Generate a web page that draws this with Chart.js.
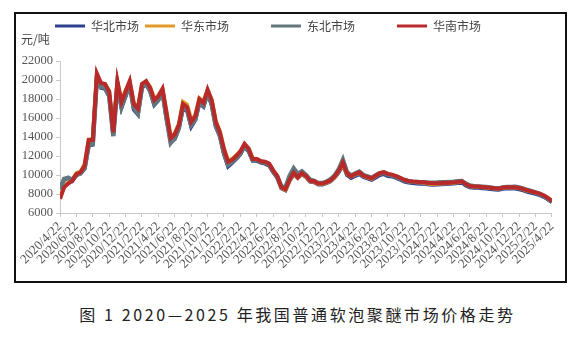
<!DOCTYPE html>
<html>
<head>
<meta charset="utf-8">
<script src="https://cdn.jsdelivr.net/npm/chart.js@4"></script>
<style>
  body { margin: 0; width: 579px; height: 337px; background: #fff; position: relative; overflow: hidden; }
  #frame { position: absolute; left: 14px; top: 12px; width: 549px; height: 267px; border: 2px solid #111; }
  #unit { position: absolute; left: 21px; top: 30px; font: 12px "Noto Sans CJK SC"; color: #444; }
  #caption { position: absolute; left: 8px; width: 579px; top: 302px; text-align: center;
             font: 16px "Noto Sans CJK SC"; letter-spacing: 2.6px; color: #222; }
</style>
</head>
<body>
<div id="frame"><canvas id="priceChart" width="549" height="267"></canvas></div>
<div id="unit">元/吨</div>
<div id="caption">图 1  2020—2025 年我国普通软泡聚醚市场价格走势</div>
<script>
// tick labels, every 2 months
const tickLabels = ["2020/4/22","2020/6/22","2020/8/22","2020/10/22","2020/12/22","2021/2/22","2021/4/22","2021/6/22",
  "2021/8/22","2021/10/22","2021/12/22","2022/2/22","2022/4/22","2022/6/22","2022/8/22","2022/10/22","2022/12/22",
  "2023/2/22","2023/4/22","2023/6/22","2023/8/22","2023/10/22","2023/12/22","2024/2/22","2024/4/22","2024/6/22",
  "2024/8/22","2024/10/22","2024/12/22","2025/2/22","2025/4/22"];

const seriesNames = ["华北市场", "华东市场", "东北市场", "华南市场"];

// prices (yuan/t), one value every half month from 2020/4/22
const huabei = [8600,9500,9700,9400,10000,10150,10700,13100,13200,20200,
  19200,19100,18300,14200,19400,17100,18300,19500,16900,16400,
  19200,19600,18800,17400,17900,18700,15900,13500,13800,14900,
  17100,16800,15100,15800,17600,17200,18600,17400,15100,14100,
  12200,10900,11300,11700,12200,13000,12500,11500,11500,11300,
  11200,11000,10300,9700,8600,8400,9400,10100,9700,10100,
  9800,9300,9250,9000,9000,9150,9350,9750,10300,11100,
  10000,9700,9900,10100,9800,9650,9500,9750,10000,10100,
  9900,9850,9700,9500,9300,9200,9150,9100,9080,9080,
  9000,8980,9000,9020,9050,9080,9100,9150,9200,8900,
  8700,8650,8650,8620,8580,8520,8480,8450,8550,8600,
  8580,8570,8500,8380,8230,8120,8020,7900,7700,7450,7150];

const huadong = [7600,8800,9200,9500,10200,10350,11100,13750,13800,20600,
  19650,19550,18850,14700,19800,17800,18900,19850,17600,17100,
  19500,19850,19250,18000,18400,19050,16600,14000,14400,15400,
  17700,17400,15800,16300,18100,17800,18900,17900,15700,14600,
  12800,11500,11700,12100,12500,13200,12800,11750,11700,11450,
  11350,11150,10450,9850,8650,8450,9450,10200,9700,10150,
  9850,9350,9300,9050,9050,9200,9400,9800,10400,11200,
  10150,9850,10050,10250,9900,9750,9600,9900,10150,10250,
  10100,10000,9850,9650,9450,9330,9280,9250,9180,9150,
  9080,9050,9070,9100,9130,9160,9200,9250,9300,9020,
  8820,8760,8760,8720,8680,8630,8580,8540,8650,8700,
  8700,8700,8630,8500,8350,8250,8150,8030,7830,7580,7230];

const dongbei = [8500,9600,9700,9500,10000,10200,10700,13200,13300,20300,
  19300,19200,18400,14100,19500,17200,18400,19600,17100,16500,
  19300,19700,18900,17500,18000,18800,16000,13400,13900,15000,
  17200,16900,15300,15900,17700,17300,18700,17500,15200,14200,
  12300,11100,11400,11800,12300,13100,12600,11600,11600,11400,
  11300,11100,10400,9800,8800,8700,9900,10700,10100,10400,
  10000,9500,9400,9150,9150,9300,9550,9950,10600,11600,
  10300,9950,10150,10350,10000,9850,9700,9950,10200,10250,
  10050,9950,9800,9600,9450,9350,9300,9280,9250,9250,
  9200,9200,9220,9250,9250,9280,9300,9350,9380,9100,
  8900,8820,8800,8780,8730,8680,8620,8600,8700,8750,
  8750,8760,8700,8580,8420,8300,8150,8000,7800,7500,7150];

const huanan = [7500,8700,9100,9400,10100,10300,11000,13700,13700,20700,
  19700,19600,18800,14500,19900,17700,18800,19900,17500,17000,
  19600,19900,19200,17900,18300,19100,16500,13900,14300,15300,
  17500,17150,15600,16200,18000,17600,19000,17900,15600,14500,
  12700,11400,11600,12000,12500,13300,12800,11700,11700,11450,
  11400,11200,10500,9900,8700,8500,9500,10250,9750,10200,
  9900,9400,9350,9100,9100,9250,9450,9850,10450,11300,
  10200,9870,10100,10300,9920,9800,9650,9950,10200,10300,
  10120,10050,9900,9700,9500,9380,9330,9300,9230,9230,
  9150,9130,9130,9150,9180,9200,9230,9280,9340,9050,
  8850,8790,8790,8750,8700,8650,8600,8560,8680,8720,
  8720,8720,8650,8530,8380,8270,8170,8050,7850,7600,7250];

const MONTHS_PER_POINT = 0.5;

function toPoints(values) {
    return values.map((v, i) => ({ x: i * MONTHS_PER_POINT, y: v }));
}

const lineSetup = [
    { data: huabei,  color: "#2d3f8f", width: 4,   order: 4 },
    { data: huadong, color: "#e09a2a", width: 4,   order: 3 },
    { data: dongbei, color: "#62777e", width: 4.5, order: 2 },
    { data: huanan,  color: "#b82a2a", width: 4,   order: 1 }
];

const ctx = document.getElementById("priceChart").getContext("2d");
new Chart(ctx, {
    type: "line",
    data: {
        datasets: lineSetup.map((s, i) => ({
            label: seriesNames[i],
            data: toPoints(s.data),
            borderColor: s.color,
            backgroundColor: s.color,
            borderWidth: s.width,
            pointRadius: 0,
            tension: 0,
            order: s.order
        }))
    },
    options: {
        responsive: false,
        animation: false,
        layout: { padding: { top: 0, right: 9, left: 0, bottom: 0 } },
        plugins: {
            legend: {
                position: "top",
                labels: {
                    boxWidth: 30,
                    boxHeight: 3,
                    padding: 6,
                    color: "#444",
                    font: { family: "Noto Sans CJK SC", size: 12 },
                    sort: (a, b) => a.datasetIndex - b.datasetIndex,
                    // wide gaps between items, as in the original
                    generateLabels: function (chart) {
                        const items = Chart.defaults.plugins.legend.labels.generateLabels(chart);
                        return items.map((l, i) => Object.assign(l, {
                            lineWidth: 0,
                            fillStyle: l.strokeStyle,
                            text: i < items.length - 1 ? l.text + "\u2003\u2003\u2003" : l.text
                        }));
                    }
                }
            },
            // empty title used as a spacer between legend and plot
            title: {
                display: true,
                text: " ",
                position: "top",
                weight: 500,
                padding: 0,
                font: { size: 16, lineHeight: 1.2 }
            },
            tooltip: { enabled: false }
        },
        scales: {
            x: {
                type: "linear",
                min: 0,
                max: 60,
                ticks: {
                    stepSize: 2,
                    autoSkip: false,
                    maxRotation: 45,
                    minRotation: 45,
                    color: "#555",
                    padding: 2,
                    font: { family: "Liberation Serif", size: 13 },
                    callback: v => tickLabels[v / 2]
                },
                grid: { drawOnChartArea: false, tickLength: 4, color: "#c8c8c8" },
                border: { color: "#c8c8c8" },
                afterFit: scale => { scale.height = 68; }
            },
            y: {
                min: 6000,
                max: 22000,
                ticks: {
                    stepSize: 2000,
                    autoSkip: false,
                    color: "#555",
                    font: { family: "Liberation Serif", size: 12.5 },
                    callback: v => String(v)
                },
                grid: { drawOnChartArea: false, tickLength: 4, color: "#c8c8c8" },
                border: { color: "#c8c8c8" },
                afterFit: scale => { scale.width = 44; }
            }
        }
    }
});
</script>
</body>
</html>
